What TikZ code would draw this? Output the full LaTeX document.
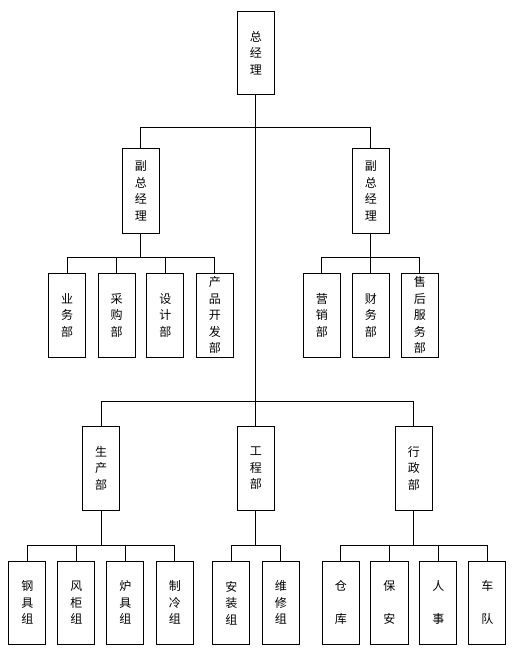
\documentclass[tikz,border=0pt]{standalone}
\usepackage{fontspec}
\newfontfamily\cjk{Noto Sans CJK SC}
\begin{document}
\begin{tikzpicture}[x=1pt,y=-1pt,line width=0.8pt,
  box/.style={draw,minimum width=37pt,minimum height=84pt,inner sep=0pt,align=center,
    font=\cjk\fontsize{12}{16.5}\selectfont},
  conn/.style={draw,line width=0.8pt}]
\useasboundingbox[fill=white] (0,0) rectangle (518,668);
% level 0
\node[box,minimum height=83pt] (gm) at (255.8,52.8) {总\\经\\理};
% level 1
\node[box,minimum height=85pt] (vp1) at (140.8,190.8) {副\\总\\经\\理};
\node[box,minimum height=85pt] (vp2) at (370.8,190.8) {副\\总\\经\\理};
% departments under vice presidents
\node[box] (d1) at (67,315.3) {业\\务\\部};
\node[box] (d2) at (116.5,315.3) {采\\购\\部};
\node[box] (d3) at (165.3,315.3) {设\\计\\部};
\node[box] (d4) at (214.8,315.3) {产\\品\\开\\发\\部};
\node[box] (d5) at (321.8,315.3) {营\\销\\部};
\node[box] (d6) at (370.8,315.3) {财\\务\\部};
\node[box] (d7) at (419.8,315.3) {售\\后\\服\\务\\部};
% level 2 departments
\node[box] (p1) at (101,468.3) {生\\产\\部};
\node[box] (p2) at (255.8,468.3) {工\\程\\部};
\node[box] (p3) at (413.8,468.3) {行\\政\\部};
% groups
\node[box,minimum height=83pt] (b1) at (27.3,602.8) {钢\\具\\组};
\node[box,minimum height=83pt] (b2) at (76.3,602.8) {风\\柜\\组};
\node[box,minimum height=83pt] (b3) at (125.3,602.8) {炉\\具\\组};
\node[box,minimum height=83pt] (b4) at (174.8,602.8) {制\\冷\\组};
\node[box,minimum height=83pt] (b5) at (231.3,602.8) {安\\装\\组};
\node[box,minimum height=83pt] (b6) at (280.8,602.8) {维\\修\\组};
\node[box,minimum height=83pt] (b7) at (340.8,602.8) {仓\\~\\库};
\node[box,minimum height=83pt,minimum width=38pt] (b8) at (389.3,602.8) {保\\~\\安};
\node[box,minimum height=83pt] (b9) at (438.3,602.8) {人\\~\\事};
\node[box,minimum height=83pt] (b10) at (487.3,602.8) {车\\~\\队};
% connectors: top
\draw[conn] (gm.south) -- (p2.north);
\draw[conn] (vp1.north) -- ++(0,-20) -| (vp2.north);
% vp1 children
\draw[conn] (vp1.south) -- ++(0,24);
\draw[conn] (d1.north) -- ++(0,-16) -| (d4.north);
\draw[conn] (d2.north) -- ++(0,-16);
\draw[conn] (d3.north) -- ++(0,-16);
% vp2 children
\draw[conn] (vp2.south) -- ++(0,24);
\draw[conn] (d5.north) -- ++(0,-16) -| (d7.north);
\draw[conn] (d6.north) -- ++(0,-16);
% main bus to level 2
\draw[conn] (p1.north) -- ++(0,-25) -| (p3.north);
% production children
\draw[conn] (p1.south) -- ++(0,35.4);
\draw[conn] (b1.north) -- ++(0,-15.6) -| (b4.north);
\draw[conn] (b2.north) -- ++(0,-15.6);
\draw[conn] (b3.north) -- ++(0,-15.6);
% engineering children
\draw[conn] (p2.south) -- ++(0,35.4);
\draw[conn] (b5.north) -- ++(0,-15.6) -| (b6.north);
% admin children
\draw[conn] (p3.south) -- ++(0,35.4);
\draw[conn] (b7.north) -- ++(0,-15.6) -| (b10.north);
\draw[conn] (b8.north) -- ++(0,-15.6);
\draw[conn] (b9.north) -- ++(0,-15.6);
\end{tikzpicture}
\end{document}
